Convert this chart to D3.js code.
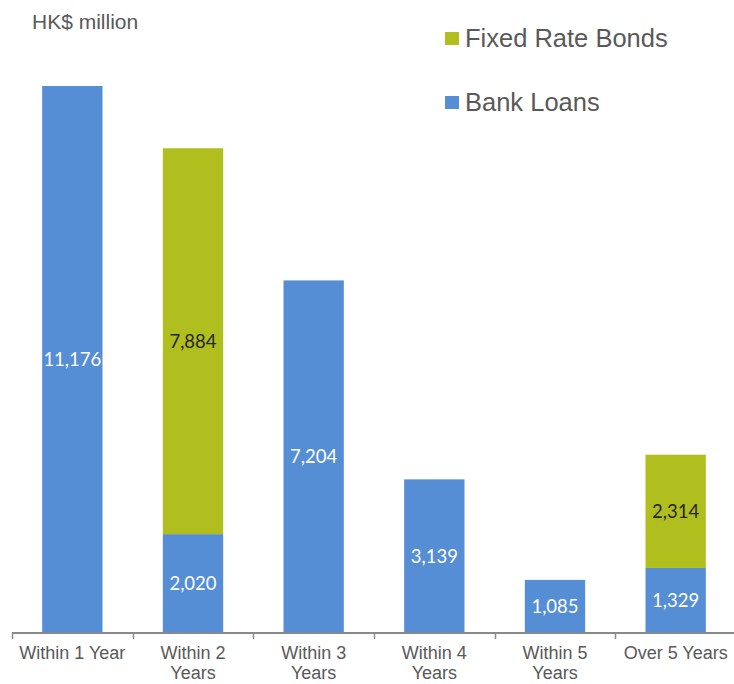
<!DOCTYPE html>
<html>
<head>
<meta charset="utf-8">
<script src="https://cdn.jsdelivr.net/npm/d3@7"></script>
<style>
  html, body { margin: 0; padding: 0; background: #ffffff; }
  svg { display: block; }
</style>
</head>
<body>
<svg id="chart" width="734" height="684"></svg>
<script>
// Debt maturity profile, HK$ million
const categories = ["Within 1 Year", "Within 2 Years", "Within 3 Years", "Within 4 Years", "Within 5 Years", "Over 5 Years"];
const categoryLines = [["Within 1 Year"], ["Within 2", "Years"], ["Within 3", "Years"], ["Within 4", "Years"], ["Within 5", "Years"], ["Over 5 Years"]];
const bankLoans = [11176, 2020, 7204, 3139, 1085, 1329];
const fixedRateBonds = [0, 7884, 0, 0, 0, 2314];
const seriesNames = ["Bank Loans", "Fixed Rate Bonds"];
const legendOrder = ["Fixed Rate Bonds", "Bank Loans"];
const yMax = 12000;

const colors = { "Bank Loans": "#558ED5", "Fixed Rate Bonds": "#B0BE1E" };
const labelColors = { "Bank Loans": "#ffffff", "Fixed Rate Bonds": "#262626" };

const svg = d3.select("#chart");
const baseY = 633;

const x = d3.scaleBand()
  .domain(categories)
  .range([12, 736])
  .paddingInner(0.5)
  .paddingOuter(0.25);

const y = d3.scaleLinear()
  .domain([0, yMax])
  .range([baseY, baseY - yMax * (547 / 11176)]);

const rows = categories.map((c, i) => ({
  category: c,
  "Bank Loans": bankLoans[i],
  "Fixed Rate Bonds": fixedRateBonds[i]
}));

const stacked = d3.stack().keys(seriesNames)(rows);
const fmt = d3.format(",");

const layers = svg.append("g").selectAll("g")
  .data(stacked)
  .join("g")
  .attr("fill", d => colors[d.key]);

layers.selectAll("rect")
  .data(d => d.filter(p => p[1] - p[0] > 0))
  .join("rect")
  .attr("x", d => x(d.data.category))
  .attr("width", x.bandwidth())
  .attr("y", d => y(d[1]))
  .attr("height", d => y(d[0]) - y(d[1]));

// value labels centred inside each segment
stacked.forEach(layer => {
  svg.append("g").selectAll("text")
    .data(layer.filter(p => p[1] - p[0] > 0))
    .join("text")
    .attr("x", d => x(d.data.category) + x.bandwidth() / 2)
    .attr("y", d => (y(d[0]) + y(d[1])) / 2)
    .attr("dy", "0.36em")
    .attr("text-anchor", "middle")
    .attr("font-family", "Lato, 'Open Sans', sans-serif")
    .attr("font-size", 18.5)
    .attr("fill", labelColors[layer.key])
    .text(d => fmt(d[1] - d[0]));
});

// category axis
const axisG = svg.append("g").attr("transform", `translate(0,${baseY})`);
axisG.append("line")
  .attr("x1", 12).attr("x2", 736)
  .attr("stroke", "#898989").attr("stroke-width", 2);
const step = x.step();
const tickXs = d3.range(categories.length).map(i => 12 + i * step);
axisG.selectAll(".tick")
  .data(tickXs)
  .join("line")
  .attr("x1", d => Math.round(d) + 0.5).attr("x2", d => Math.round(d) + 0.5)
  .attr("y1", 0).attr("y2", 6)
  .attr("stroke", "#898989").attr("stroke-width", 1.5);

const catLabels = svg.append("g").selectAll("text")
  .data(categories)
  .join("text")
  .attr("x", d => x(d) + x.bandwidth() / 2)
  .attr("y", 659)
  .attr("text-anchor", "middle")
  .attr("font-family", "Liberation Sans, Arial, sans-serif")
  .attr("font-size", 18)
  .attr("fill", "#595959");

catLabels.each(function(d, i) {
  d3.select(this).selectAll("tspan")
    .data(categoryLines[i])
    .join("tspan")
    .attr("x", x(d) + x.bandwidth() / 2)
    .attr("dy", (t, j) => j === 0 ? 0 : 20)
    .text(t => t);
});

// unit title
svg.append("text")
  .attr("x", 32).attr("y", 29)
  .attr("font-family", "Liberation Sans, Arial, sans-serif")
  .attr("font-size", 21)
  .attr("fill", "#595959")
  .text("HK$ million");

// legend
const legend = svg.append("g").selectAll("g")
  .data(legendOrder)
  .join("g")
  .attr("transform", (d, i) => `translate(445,${32 + i * 64})`);
legend.append("rect")
  .attr("width", 14).attr("height", 13)
  .attr("fill", d => colors[d]);
legend.append("text")
  .attr("x", 20).attr("y", 15)
  .attr("font-family", "Liberation Sans, Arial, sans-serif")
  .attr("font-size", 25.5)
  .attr("fill", "#595959")
  .text(d => d);
</script>
</body>
</html>
